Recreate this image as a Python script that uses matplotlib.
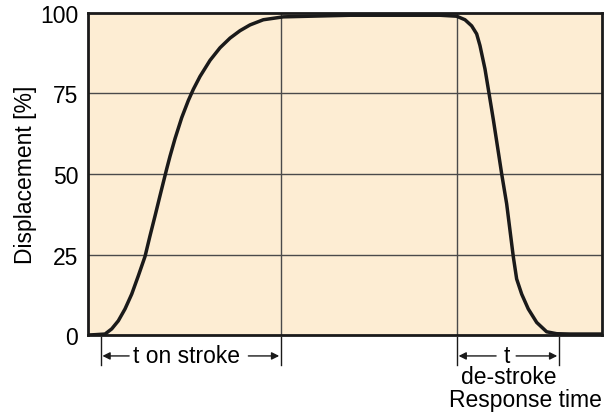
import matplotlib.pyplot as plt

plt.rcParams['font.family'] = ['Liberation Sans', 'DejaVu Sans']

# response curve, time in arbitrary units (0..100 across the plot)
time_pts = [0.0, 1.36, 3.31, 4.61, 5.89, 7.2, 8.5, 9.79, 11.09, 12.06, 13.04,
            14.01, 14.65, 15.31, 15.95, 16.93, 18.23, 19.51, 20.49, 21.79,
            23.74, 25.68, 27.63, 29.57, 31.52, 34.1, 38.0, 51.0, 68.48,
            71.73, 73.35, 74.65, 75.62, 76.26, 77.24, 78.07, 78.85, 80.02,
            80.49, 81.46, 82.74, 83.4, 84.38, 85.66, 87.3, 89.24, 91.19,
            93.77, 100.0]
displacement = [0.0, 0.1, 0.3, 1.9, 4.4, 8.1, 12.7, 18.4, 24.4, 30.8, 37.0,
                43.3, 47.4, 51.6, 55.5, 61.0, 67.5, 72.8, 76.3, 80.3, 85.3,
                89.2, 92.2, 94.5, 96.3, 97.9, 98.8, 99.3, 99.3, 99.0, 97.9,
                96.0, 93.5, 89.9, 82.6, 74.6, 67.0, 54.9, 50.0, 40.7, 24.4,
                17.4, 12.7, 8.1, 3.9, 1.0, 0.4, 0.3, 0.3]

y_ticks = [0, 25, 50, 75, 100]
v_grid = [37.5, 71.8]
on_start, on_end = 2.5, 37.5
off_start, off_end = 71.8, 91.6

fig = plt.figure(figsize=(6.13, 4.14), dpi=100)
ax = fig.add_axes([0.1436, 0.1884, 0.8384, 0.7778])
ax.set_facecolor('#fdedd3')

for y in y_ticks[1:-1]:
    ax.axhline(y, color='#4a4a4a', lw=1.0, zorder=1)
for x in v_grid:
    ax.axvline(x, color='#4a4a4a', lw=1.0, zorder=1)

ax.plot(time_pts, displacement, color='#1a1a1a', lw=2.5, zorder=3,
        solid_joinstyle='round', solid_capstyle='round')

ax.set_xlim(0, 100)
ax.set_ylim(0, 100)
ax.set_xticks([])
ax.set_yticks(y_ticks)
ax.tick_params(axis='y', length=0, pad=7, labelsize=16.5)
for s in ax.spines.values():
    s.set_linewidth(2)
    s.set_color('#1a1a1a')
ax.set_ylabel('Displacement [%]', fontsize=16.5, labelpad=2.5)

tr = ax.get_xaxis_transform()
for x in [on_start, on_end, off_start, off_end]:
    ax.plot([x, x], [-0.006, -0.093], transform=tr, color='#1a1a1a',
            lw=1.0, clip_on=False)

ya = -0.065
arr = dict(arrowstyle='-|>', color='#1a1a1a', lw=1.0, mutation_scale=11,
           shrinkA=0, shrinkB=0)
ax.annotate('', xy=(on_start + 0.3, ya), xytext=(8.0, ya), xycoords=tr,
            textcoords=tr, arrowprops=arr, annotation_clip=False)
ax.annotate('', xy=(on_end - 0.3, ya), xytext=(31.2, ya), xycoords=tr,
            textcoords=tr, arrowprops=arr, annotation_clip=False)
ax.text(19.2, ya, 't on stroke', transform=tr, ha='center', va='center',
        fontsize=16.5)

ax.annotate('', xy=(off_start + 0.3, ya), xytext=(79.4, ya), xycoords=tr,
            textcoords=tr, arrowprops=arr, annotation_clip=False)
ax.annotate('', xy=(off_end - 0.3, ya), xytext=(83.3, ya), xycoords=tr,
            textcoords=tr, arrowprops=arr, annotation_clip=False)
ax.text(81.4, ya, 't', transform=tr, ha='center', va='center', fontsize=16.5)
ax.text(81.9, -0.13, 'de-stroke', transform=tr, ha='center', va='center',
        fontsize=16.5)
ax.text(85.2, -0.199, 'Response time', transform=tr, ha='center',
        va='center', fontsize=16.5)

fig.savefig('out.png', dpi=100)
